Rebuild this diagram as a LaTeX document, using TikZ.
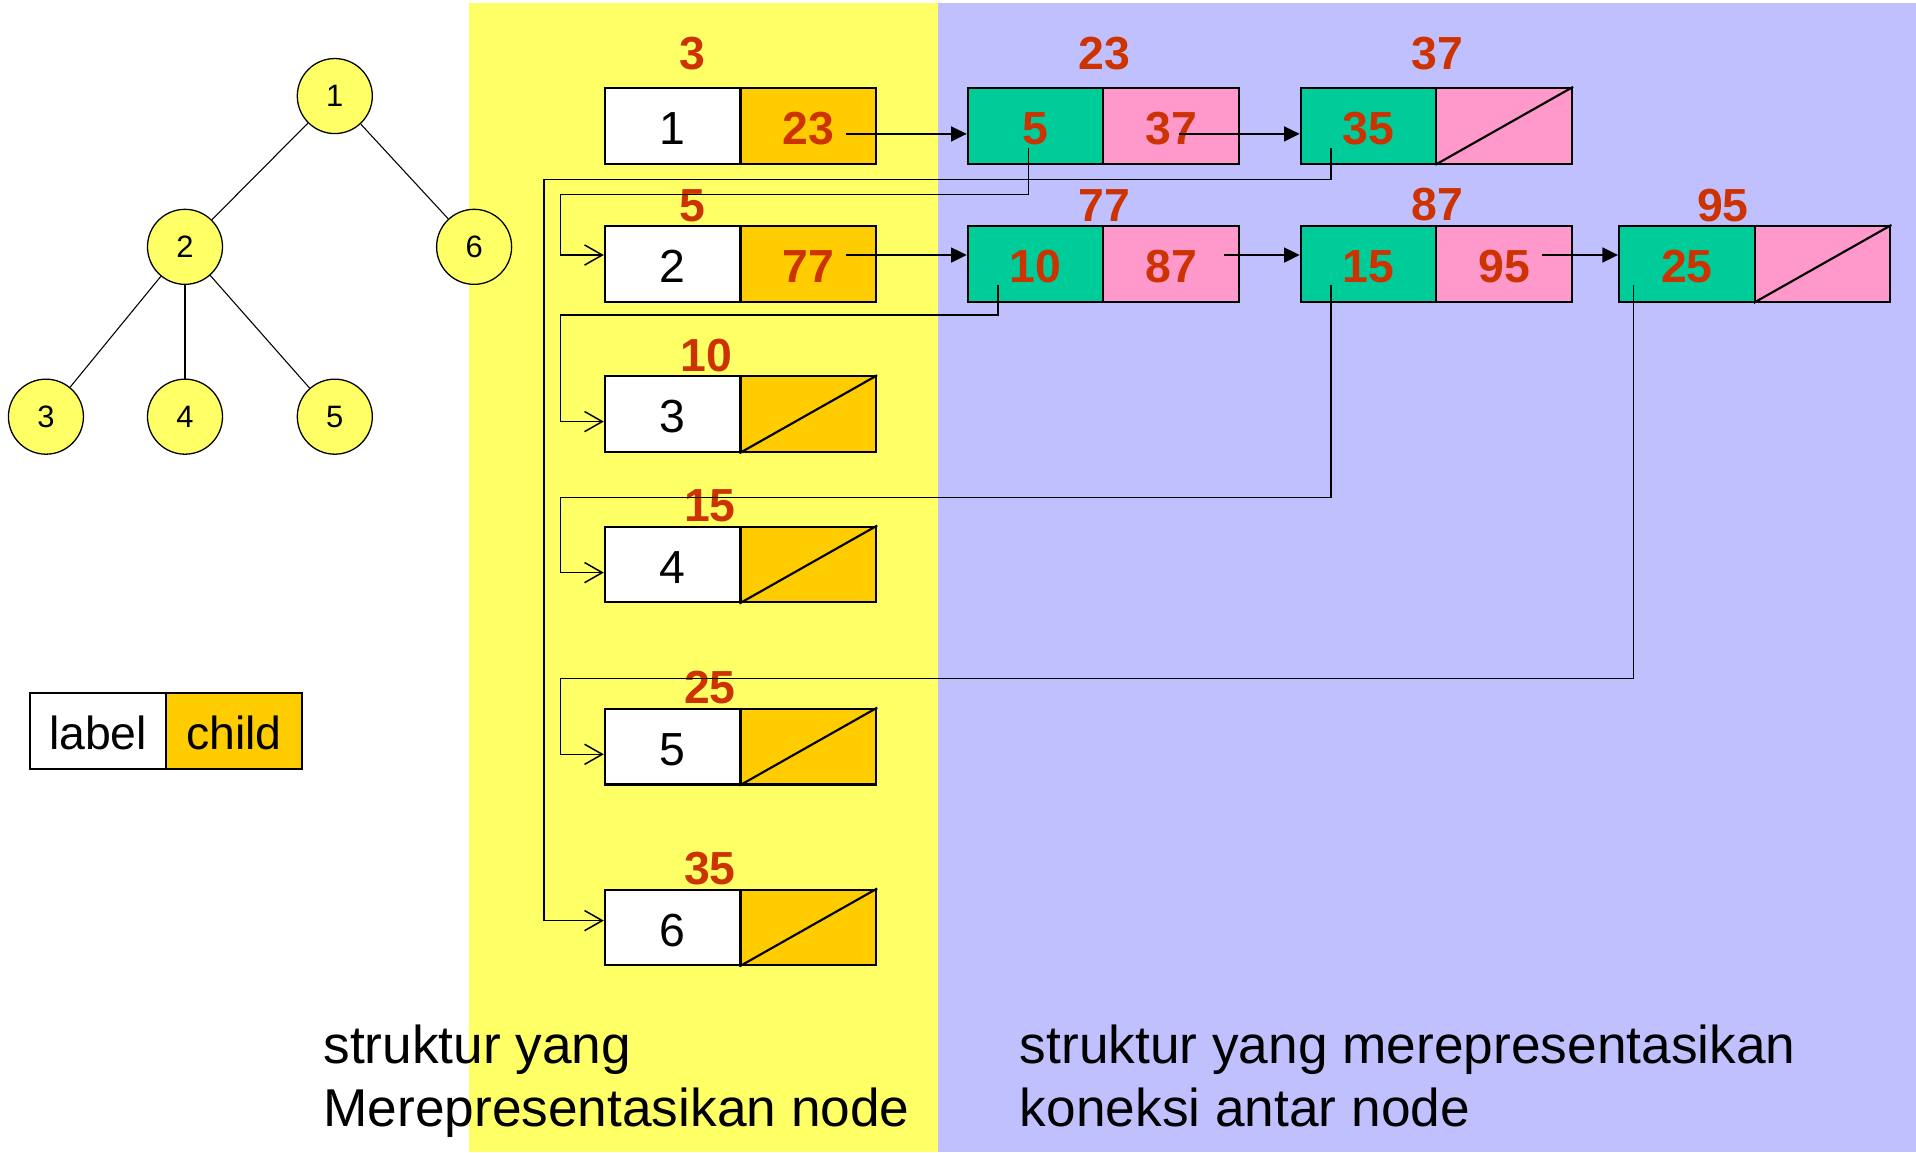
\documentclass[tikz,border=0pt]{standalone}
\usepackage{fontspec}
\setmainfont{Liberation Sans}
\usetikzlibrary{arrows.meta}
\definecolor{bgyellow}{RGB}{255,255,102}
\definecolor{bgblue}{RGB}{192,192,255}
\definecolor{cgreen}{RGB}{0,204,153}
\definecolor{cpink}{RGB}{255,153,204}
\definecolor{corange}{RGB}{255,204,0}
\definecolor{cred}{RGB}{204,51,0}
\begin{document}
\begin{tikzpicture}[x=0.1mm,y=-0.1mm,
  cell/.style={draw, line width=0.5pt, minimum width=11.1mm, minimum height=6.2mm, inner sep=0pt, text height=3.07mm, text depth=0pt, font=\fontsize{10.8}{12}\selectfont},
  wcell/.style={cell, fill=white},
  ocell/.style={cell, fill=corange, text=cred, font=\fontsize{10.8}{12}\selectfont\bfseries},
  gcell/.style={cell, fill=cgreen, text=cred, font=\fontsize{10.8}{12}\selectfont\bfseries},
  pcell/.style={cell, fill=cpink, text=cred, font=\fontsize{10.8}{12}\selectfont\bfseries},
  lbl/.style={text=cred, font=\fontsize{10.8}{12}\selectfont\bfseries, inner sep=0pt},
  tnode/.style={circle, draw, line width=0.3pt, fill=bgyellow, minimum size=6.14mm, inner sep=0pt, font=\fontsize{7.2}{8}\selectfont},
  tedge/.style={line width=0.25pt},
  nxt/.style={line width=0.35pt, -{Triangle[length=1.28mm,width=1.23mm]}},
  chd/.style={line width=0.35pt, -{Straight Barb[length=1.45mm,width=1.65mm]}},
  nullslash/.style={line width=0.5pt},
  captxt/.style={align=left, anchor=north west, inner sep=0pt, font=\fontsize{12.4}{14.8}\selectfont}
]
\useasboundingbox (0,0) rectangle (1568,943);
\fill[white] (0,0) rectangle (1568,943);
\fill[bgyellow] (383.8,2.5) rectangle (767.6,943);
\fill[bgblue] (767.6,2.5) rectangle (1568,943);

% tree
\node[tnode] (t1) at (274,78.6) {1};
\node[tnode] (t2) at (151.4,202) {2};
\node[tnode] (t6) at (388,202) {6};
\node[tnode] (t3) at (37.6,341) {3};
\node[tnode] (t4) at (151.4,341) {4};
\node[tnode] (t5) at (274,341) {5};
\draw[tedge] (t1) -- (t2);
\draw[tedge] (t1) -- (t6);
\draw[tedge] (t2) -- (t3);
\draw[tedge] (t2) -- (t4);
\draw[tedge] (t2) -- (t5);

% legend
\node[wcell] (lgl) at (80.2,598) {label};
\node[cell, fill=corange] (lgc) at (191.3,598) {child};

% node structures
\node[wcell] (w1) at (550.5,103) {1};
\node[ocell] (o1) at (661.5,103) {23};
\node[wcell] (w2) at (550.5,216) {2};
\node[ocell] (o2) at (661.5,216) {77};
\node[wcell] (w3) at (550.5,339) {3};
\node[ocell] (o3) at (661.5,339) {};
\node[wcell] (w4) at (550.5,462) {4};
\node[ocell] (o4) at (661.5,462) {};
\node[wcell] (w5) at (550.5,611) {5};
\node[ocell] (o5) at (661.5,611) {};
\node[wcell] (w6) at (550.5,759) {6};
\node[ocell] (o6) at (661.5,759) {};
\foreach \c in {o3,o4,o5,o6} \draw[nullslash] (\c.south west) -- (\c.north east);

% connection structures
\node[gcell] (g5) at (847.5,103) {5};
\node[pcell] (p37) at (958.5,103) {37};
\node[gcell] (g35) at (1120,103) {35};
\node[pcell] (pn1) at (1231,103) {};
\node[gcell] (g10) at (847.5,216) {10};
\node[pcell] (p87) at (958.5,216) {87};
\node[gcell] (g15) at (1120,216) {15};
\node[pcell] (p95) at (1231,216) {95};
\node[gcell] (g25) at (1380.5,216) {25};
\node[pcell] (pn2) at (1491.5,216) {};
\foreach \c in {pn1,pn2} \draw[nullslash] (\c.south west) -- (\c.north east);

% address labels
\node[lbl] (l1) at (567,44) {3};
\node[lbl] (l2) at (567,168) {5};
\node[lbl] (l3) at (578,291) {10};
\node[lbl] (l4) at (581,414) {15};
\node[lbl] (l5) at (581,563) {25};
\node[lbl] (l6) at (581,711) {35};
\node[lbl] (m1) at (904,44) {23};
\node[lbl] (m2) at (1176,44) {37};
\node[lbl] (m3) at (904,168) {77};
\node[lbl] (m4) at (1176,167) {87};
\node[lbl] (m5) at (1410,168) {95};

% next pointers
\coordinate (s23) at (692,109.6);
\coordinate (s37) at (965,109.6);
\coordinate (s77) at (692,208.7);
\coordinate (s87) at (1002,208.7);
\coordinate (s95) at (1262,208.7);
\draw[nxt] (s23) -- (s23 -| g5.west);
\draw[nxt] (s37) -- (s37 -| g35.west);
\draw[nxt] (s77) -- (s77 -| g10.west);
\draw[nxt] (s87) -- (s87 -| g15.west);
\draw[nxt] (s95) -- (s95 -| g25.west);

% child pointers
\coordinate (c5) at (841.8,121);
\coordinate (c35) at (1089.2,121);
\coordinate (c10) at (816.7,233);
\coordinate (c15) at (1089.2,233);
\coordinate (c25) at (1336.7,233);
\draw[chd] (c5) |- (458.5,159.1) |- ([yshift=0.73mm]w2.west);
\draw[chd] (c35) |- (445,146.8) |- ([yshift=0.56mm]w6.west);
\draw[chd] (c10) |- (458.5,257.8) |- ([yshift=-0.6mm]w3.west);
\draw[chd] (c15) |- (458.5,407) |- ([yshift=-0.66mm]w4.west);
\draw[chd] (c25) |- (458.5,555.2) |- ([yshift=-0.63mm]w5.west);

% captions
\node[captxt] (cap1) at (264,837.8) {struktur yang\\Merepresentasikan node};
\node[captxt] (cap2) at (834,837.8) {struktur yang merepresentasikan\\koneksi antar node};
\end{tikzpicture}
\end{document}
